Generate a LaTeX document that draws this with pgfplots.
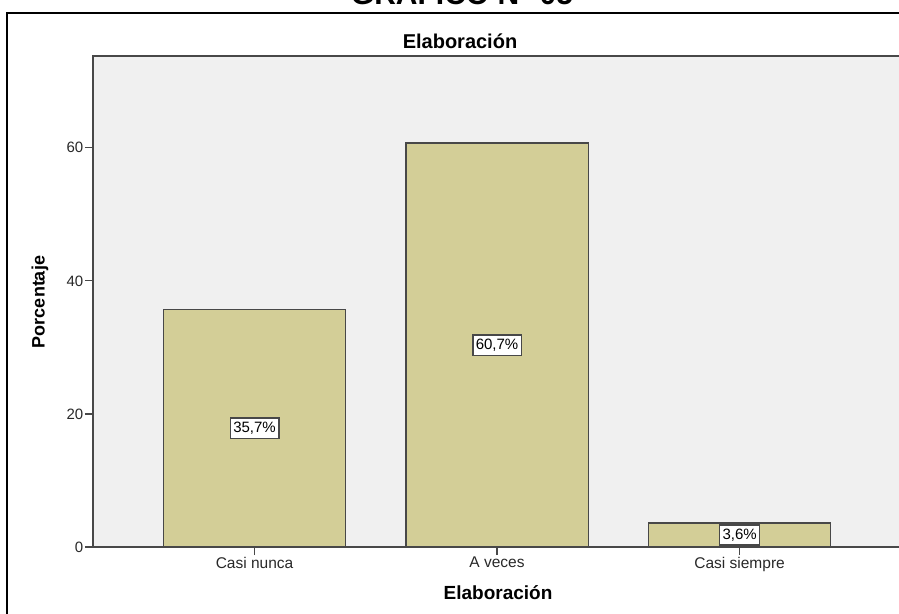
\documentclass[border=0pt]{standalone}
\usepackage{pgfplots}
\pgfplotsset{compat=1.18}
\usepackage{fontspec}
\setmainfont{Liberation Sans}

\definecolor{barfill}{RGB}{211,206,151}
\definecolor{plotbg}{RGB}{240,240,240}
\definecolor{edge}{RGB}{72,72,72}
\definecolor{ticktext}{RGB}{40,40,40}

\begin{document}
\begin{tikzpicture}[x=1pt,y=1pt]
  % page is the visible part of the original (cut) screenshot
  \path[use as bounding box, clip] (0,0) rectangle (899,613);
  \draw[line width=2pt] (7,-20) -- (7,600) -- (950,600);
  \node[font=\bfseries\fontsize{30}{30}\selectfont, anchor=base] at (462,608) {GRAFICO N° 05};

  \begin{axis}[
      at={(93pt,66pt)}, anchor=south west,
      scale only axis,
      width=812pt, height=491pt,
      xmin=-0.666, xmax=2.682,
      ymin=0, ymax=73.8,
      axis background/.style={fill=plotbg},
      axis line style={edge, line width=1.4pt},
      xtick={0,1,2},
      xticklabels={Casi nunca, A veces, Casi siempre},
      ytick={0,20,40,60},
      xtick pos=bottom, ytick pos=left,
      tick align=outside,
      major tick length=8pt,
      tick style={edge, line width=1.2pt},
      xticklabel style={font=\fontsize{15.5}{16}\selectfont, text=ticktext, inner sep=2pt},
      yticklabel style={font=\fontsize{15}{16}\selectfont, text=ticktext, inner sep=1.5pt},
      /pgf/number format/assume math mode=true,
      clip=false,
    ]
    \addplot[ybar, bar width=0.752, fill=barfill, draw=edge, line width=1.3pt]
      coordinates {(0,35.7) (1,60.7) (2,3.6)};
    \addplot[draw=none, mark=none, forget plot,
        nodes near coords, point meta=explicit symbolic,
        every node near coord/.append style={anchor=center, fill=white,
          draw=edge, line width=1.5pt, inner xsep=3pt, inner ysep=4pt,
          font=\fontsize{15}{16}\selectfont, text=black}]
      coordinates {(0,17.85)[35,7\%] (1,30.35)[60,7\%] (2,1.8)[3,6\%]};
  \end{axis}

  \node[font=\bfseries\fontsize{20}{20}\selectfont] at (460,572) {Elaboración};
  \node[font=\bfseries\fontsize{19}{19}\selectfont] at (498,20) {Elaboración};
  \node[font=\bfseries\fontsize{18}{18}\selectfont, rotate=90] at (40,311) {Porcentaje};
\end{tikzpicture}
\end{document}
